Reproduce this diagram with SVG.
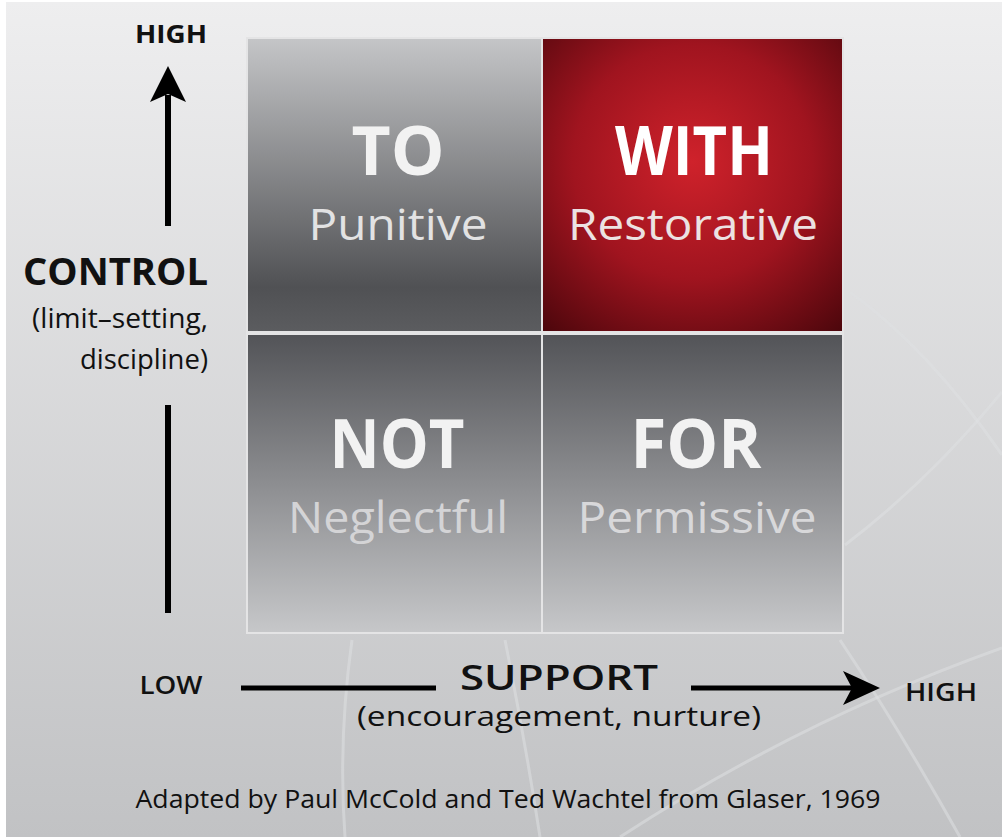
<svg xmlns="http://www.w3.org/2000/svg" width="1002" height="837" viewBox="0 0 1002 837">
<defs>
<linearGradient id="bg" x1="0" y1="0" x2="0" y2="1"><stop offset="0" stop-color="#eeeeef"/><stop offset="1" stop-color="#c1c2c4"/></linearGradient>
<linearGradient id="gTop" x1="0" y1="0" x2="0" y2="1"><stop offset="0" stop-color="#c4c5c7"/><stop offset="0.85" stop-color="#505154"/><stop offset="1" stop-color="#5b5c5f"/></linearGradient>
<linearGradient id="gBot" x1="0" y1="0" x2="0" y2="1"><stop offset="0" stop-color="#535458"/><stop offset="1" stop-color="#c6c7c9"/></linearGradient>
<radialGradient id="gRed" cx="0.5" cy="0.42" r="0.8"><stop offset="0" stop-color="#cf222b"/><stop offset="0.5" stop-color="#a0141f"/><stop offset="1" stop-color="#44050a"/></radialGradient>
<style>
.big{font-family:"Open Sans","DejaVu Sans",sans-serif;font-weight:700;text-anchor:middle}
.sub{font-family:"Open Sans","DejaVu Sans",sans-serif;font-weight:400;text-anchor:middle}
.lbl{font-family:"Open Sans","DejaVu Sans",sans-serif;fill:#111}
.curve{fill:none;stroke:#dfe0e1;stroke-width:3;opacity:0.55}
</style>
</defs>
<rect x="0" y="0" width="1002" height="837" fill="#ffffff"/>
<rect x="6" y="2" width="996" height="835" fill="url(#bg)"/>
<g id="background-curves">
<path class="curve" d="M850,292 Q930,350 1002,455"/>
<path class="curve" d="M845,545 Q930,480 1002,392"/>
<path class="curve" d="M352,640 Q338,740 345,837"/>
<path class="curve" d="M505,640 Q525,740 540,837"/>
<path class="curve" d="M620,837 Q800,720 1002,648"/>
<path class="curve" d="M840,640 Q900,730 960,837"/>
</g>
<rect x="246" y="37" width="598" height="597" fill="#e4e4e5"/>
<g id="to">
<rect x="248" y="39" width="293" height="292" fill="url(#gTop)"/>
<text class="big" x="398" y="175" font-size="68" fill="#f2f2f2" textLength="93" lengthAdjust="spacingAndGlyphs">TO</text>
<text class="sub" x="398" y="240" font-size="43" fill="#e2e2e3" textLength="179" lengthAdjust="spacingAndGlyphs">Punitive</text>
</g>
<g id="with">
<rect x="543" y="39" width="299" height="292" fill="url(#gRed)"/>
<text class="big" x="694" y="175" font-size="68" fill="#ffffff" textLength="158" lengthAdjust="spacingAndGlyphs">WITH</text>
<text class="sub" x="693" y="240" font-size="43" fill="#ece2e2" textLength="250" lengthAdjust="spacingAndGlyphs">Restorative</text>
</g>
<g id="not">
<rect x="248" y="335" width="293" height="297" fill="url(#gBot)"/>
<text class="big" x="397" y="468" font-size="68" fill="#f2f2f2" textLength="135" lengthAdjust="spacingAndGlyphs">NOT</text>
<text class="sub" x="398" y="533" font-size="43" fill="#d4d4d6" textLength="220" lengthAdjust="spacingAndGlyphs">Neglectful</text>
</g>
<g id="for">
<rect x="543" y="335" width="299" height="297" fill="url(#gBot)"/>
<text class="big" x="696" y="468" font-size="68" fill="#f2f2f2" textLength="131" lengthAdjust="spacingAndGlyphs">FOR</text>
<text class="sub" x="697" y="533" font-size="43" fill="#d8d8da" textLength="239" lengthAdjust="spacingAndGlyphs">Permissive</text>
</g>
<g id="connectors">
<line x1="168" y1="95" x2="168" y2="226" stroke="#000" stroke-width="6"/>
<polygon points="168,66 150,102 168,94 186,102" fill="#000"/>
<line x1="168" y1="405" x2="168" y2="613" stroke="#000" stroke-width="6"/>
<line x1="241" y1="688" x2="436" y2="688" stroke="#000" stroke-width="5"/>
<line x1="691" y1="688" x2="855" y2="688" stroke="#000" stroke-width="5"/>
<polygon points="880,688 843,671 852,688 843,705" fill="#000"/>
</g>
<g id="control-label">
<text class="lbl" x="171" y="43" font-size="25" font-weight="700" text-anchor="middle" textLength="72" lengthAdjust="spacingAndGlyphs">HIGH</text>
<text class="lbl" x="208" y="285" font-size="38" font-weight="700" text-anchor="end" textLength="185" lengthAdjust="spacingAndGlyphs">CONTROL</text>
<text class="lbl" x="208" y="328" font-size="28" text-anchor="end" textLength="176" lengthAdjust="spacingAndGlyphs">(limit–setting,</text>
<text class="lbl" x="208" y="369" font-size="28" text-anchor="end" textLength="128" lengthAdjust="spacingAndGlyphs">discipline)</text>
</g>
<g id="support-label">
<text class="lbl" x="171" y="694" font-size="25" font-weight="600" text-anchor="middle" textLength="63" lengthAdjust="spacingAndGlyphs">LOW</text>
<text class="lbl" x="941" y="701" font-size="25" font-weight="600" text-anchor="middle" textLength="72" lengthAdjust="spacingAndGlyphs">HIGH</text>
<text class="lbl" x="559" y="690" font-size="34" font-weight="600" text-anchor="middle" textLength="198" lengthAdjust="spacingAndGlyphs">SUPPORT</text>
<text class="lbl" x="559" y="726" font-size="27" text-anchor="middle" textLength="404" lengthAdjust="spacingAndGlyphs">(encouragement, nurture)</text>
</g>
<g id="footer">
<text class="lbl" x="508" y="808" font-size="25" fill="#1a1a1a" text-anchor="middle" textLength="745" lengthAdjust="spacingAndGlyphs">Adapted by Paul McCold and Ted Wachtel from Glaser, 1969</text>
</g>
</svg>
